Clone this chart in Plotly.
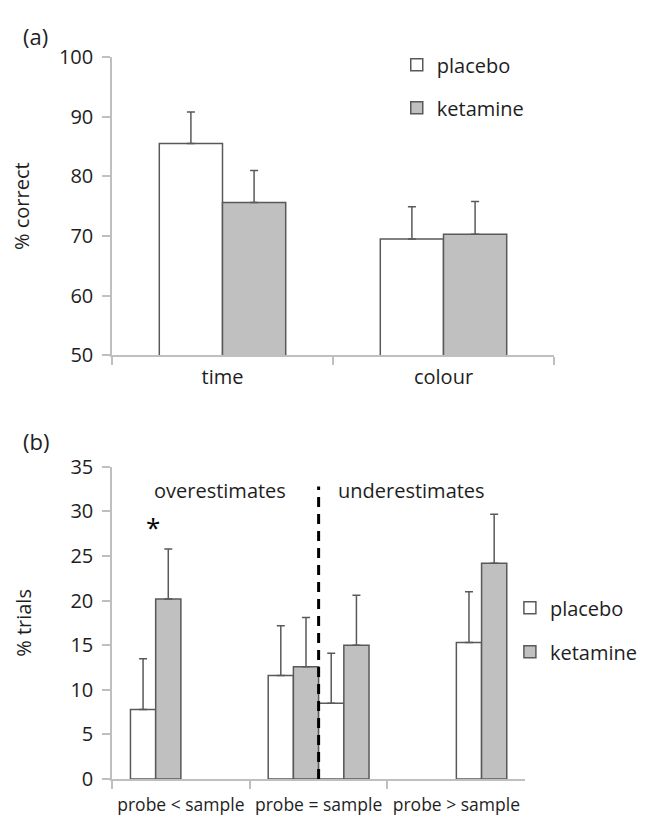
import plotly.graph_objects as go

# ---------------- data ----------------
categories_a = ["time", "colour"]
placebo_a = [85.5, 69.5]
placebo_a_err = [5.3, 5.4]
ketamine_a = [75.6, 70.3]
ketamine_a_err = [5.4, 5.5]

categories_b = ["probe < sample", "probe = sample", "probe > sample"]
over_placebo = [7.8, 11.6, None]
over_placebo_err = [5.7, 5.6, None]
over_ketamine = [20.2, 12.6, None]
over_ketamine_err = [5.6, 5.5, None]
under_placebo = [None, 8.5, 15.3]
under_placebo_err = [None, 5.6, 5.7]
under_ketamine = [None, 15.0, 24.2]
under_ketamine_err = [None, 5.6, 5.5]

ticks_a = [50, 60, 70, 80, 90, 100]
ticks_b = [0, 5, 10, 15, 20, 25, 30, 35]

# ---------------- style / geometry ----------------
WHITE = "#ffffff"
GREY = "#c0c0c0"
EDGE = "#595959"
AXIS = "#bfbfbf"
TXT = "#1e1e1e"
FONT = "Open Sans"

W, H = 647, 820
L, R, T, B = 103, 83, 49, 33
PW, PH = W - L - R, H - T - B


def px_x(px):
    return (px - L) / PW


def px_y(py):
    return (H - B - py) / PH


def errs(e):
    return dict(type="data", symmetric=False, array=e,
                arrayminus=[0 if v is not None else None for v in e],
                color=EDGE, thickness=1.5, width=4)


fig = go.Figure()

# panel (a)
wa = 0.286
fig.add_trace(go.Bar(x=categories_a, y=placebo_a, name="placebo", offset=-wa, width=wa,
                     marker=dict(color=WHITE, line=dict(color=EDGE, width=1.5)),
                     error_y=errs(placebo_a_err), xaxis="x", yaxis="y",
                     legend="legend", legendgroup="pa"))
fig.add_trace(go.Bar(x=categories_a, y=ketamine_a, name="ketamine", offset=0, width=wa,
                     marker=dict(color=GREY, line=dict(color=EDGE, width=1.5)),
                     error_y=errs(ketamine_a_err), xaxis="x", yaxis="y",
                     legend="legend", legendgroup="ka"))

# panel (b)
wb = 0.183
fig.add_trace(go.Bar(x=categories_b, y=over_placebo, name="placebo", offset=-2 * wb, width=wb,
                     marker=dict(color=WHITE, line=dict(color=EDGE, width=1.5)),
                     error_y=errs(over_placebo_err), xaxis="x2", yaxis="y2",
                     legend="legend2", legendgroup="pb"))
fig.add_trace(go.Bar(x=categories_b, y=over_ketamine, name="ketamine", offset=-wb, width=wb,
                     marker=dict(color=GREY, line=dict(color=EDGE, width=1.5)),
                     error_y=errs(over_ketamine_err), xaxis="x2", yaxis="y2",
                     legend="legend2", legendgroup="kb"))
fig.add_trace(go.Bar(x=categories_b, y=under_placebo, name="placebo", offset=0, width=wb,
                     marker=dict(color=WHITE, line=dict(color=EDGE, width=1.5)),
                     error_y=errs(under_placebo_err), xaxis="x2", yaxis="y2",
                     legend="legend2", legendgroup="pb", showlegend=False))
fig.add_trace(go.Bar(x=categories_b, y=under_ketamine, name="ketamine", offset=wb, width=wb,
                     marker=dict(color=GREY, line=dict(color=EDGE, width=1.5)),
                     error_y=errs(under_ketamine_err), xaxis="x2", yaxis="y2",
                     legend="legend2", legendgroup="kb", showlegend=False))

axis_common = dict(showline=True, linecolor=AXIS, linewidth=1.5, ticks="outside",
                   ticklen=8, tickcolor=AXIS, tickwidth=1.5, showgrid=False,
                   zeroline=False)

fig.update_layout(
    width=W, height=H,
    margin=dict(l=L, r=R, t=T, b=B),
    paper_bgcolor="white", plot_bgcolor="white",
    font=dict(family=FONT, size=20, color=TXT),
    barmode="overlay",
    xaxis=dict(domain=[0, 1], anchor="y", type="category",
               categoryorder="array", categoryarray=categories_a,
               range=[-0.5, 1.5], tickson="boundaries", ticklabelstandoff=3,
               tickfont=dict(family=FONT, size=20, color=TXT), **axis_common),
    yaxis=dict(domain=[px_y(354), 1], anchor="x", range=[50, 100], tickvals=ticks_a,
               ticklabelstandoff=5, tickfont=dict(family=FONT, size=20, color=TXT),
               title=dict(text="% correct", standoff=25, font=dict(family=FONT, size=20, color=TXT)),
               **axis_common),
    xaxis2=dict(domain=[0, px_x(534)], anchor="y2", type="category",
                categoryorder="array", categoryarray=categories_b,
                range=[-0.5, 2.5], tickson="boundaries", ticklabelstandoff=9,
                tickfont=dict(family=FONT, size=17.5, color=TXT), **axis_common),
    yaxis2=dict(domain=[0, px_y(468)], anchor="x2", range=[0, 35], tickvals=ticks_b,
                ticklabelstandoff=5, tickfont=dict(family=FONT, size=20, color=TXT),
                title=dict(text="% trials", standoff=33, font=dict(family=FONT, size=20, color=TXT)),
                **axis_common),
    legend=dict(x=px_x(400), y=px_y(37), xanchor="left", yanchor="top",
                font=dict(family=FONT, size=20, color=TXT), tracegroupgap=14,
                bgcolor="rgba(0,0,0,0)"),
    legend2=dict(x=px_x(518), y=px_y(592), xanchor="left", yanchor="top",
                 font=dict(family=FONT, size=20, color=TXT), tracegroupgap=15,
                 bgcolor="rgba(0,0,0,0)"),
    showlegend=True,
)

# divider between over- and underestimates
fig.add_shape(type="line", xref="x2", yref="y2", x0=1, x1=1, y0=0, y1=32.8,
              line=dict(color="black", width=3, dash="10px,7px"), layer="above")

fig.add_annotation(text="overestimates", xref="x2", yref="y2", x=0.285, y=32.4,
                   showarrow=False, font=dict(family=FONT, size=20, color=TXT))
fig.add_annotation(text="underestimates", xref="x2", yref="y2", x=1.677, y=32.4,
                   showarrow=False, font=dict(family=FONT, size=20, color=TXT))
fig.add_annotation(text="*", xref="x2", yref="y2", x=-0.2, y=28.3,
                   showarrow=False, font=dict(family=FONT, size=26, color="black"))
fig.add_annotation(text="(a)", xref="paper", yref="paper", x=px_x(23), y=px_y(28),
                   xanchor="center", yanchor="middle",
                   showarrow=False, font=dict(family=FONT, size=22, color=TXT))
fig.add_annotation(text="(b)", xref="paper", yref="paper", x=px_x(24), y=px_y(441),
                   xanchor="center", yanchor="middle",
                   showarrow=False, font=dict(family=FONT, size=22, color=TXT))

fig.write_html("out.html")
